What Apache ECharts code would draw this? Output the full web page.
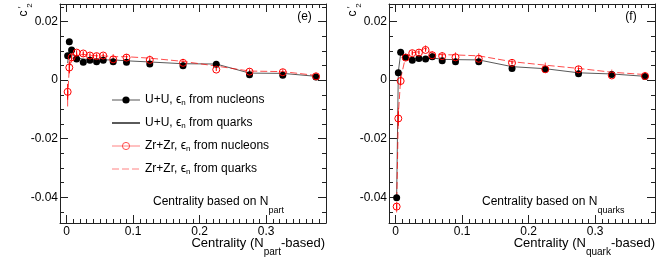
<!DOCTYPE html>
<html><head><meta charset="utf-8">
<script src="https://cdn.jsdelivr.net/npm/echarts@6/dist/echarts.min.js"></script>
<style>html,body{margin:0;padding:0;background:#fff}#c{width:664px;height:260px}</style>
</head><body><div id="c"></div>
<script>
// ---- data ----
const centrality = [0.0015, 0.004, 0.0075, 0.015, 0.025, 0.035, 0.045, 0.055, 0.07, 0.09, 0.125, 0.175, 0.225, 0.275, 0.325, 0.375];
// panel (e): centrality based on Npart
const uuNucL = [0.0083, 0.0131, 0.0103, 0.0072, 0.0061, 0.0068, 0.0063, 0.0068, 0.0063, 0.0061, 0.0055, 0.0049, 0.0054, 0.0018, 0.0017, 0.0011];
const uuQrkL = [0.0058, 0.0108, 0.0088, 0.0076, 0.0072, 0.0070, 0.0069, 0.0069, 0.0069, 0.0066, 0.0062, 0.0056, 0.0055, 0.0024, 0.0023, 0.0013];
const zrNucL = [-0.0040, 0.0043, 0.0078, 0.0094, 0.0091, 0.0084, 0.0082, 0.0084, 0.0071, 0.0077, 0.0069, 0.0059, 0.0036, 0.0029, 0.0027, 0.0013];
const zrNucErrL = [0.0027, 0.0020, 0.0010, 0.0008, 0.0007, 0.0006, 0.0006, 0.0006, 0.0006, 0.0006, 0.0005, 0.0005, 0.0005, 0.0005, 0.0005, 0.0005];
const zrQrkL = [-0.0060, 0.0045, 0.0072, 0.0085, 0.0088, 0.0085, 0.0083, 0.0083, 0.0080, 0.0080, 0.0075, 0.0064, 0.0048, 0.0031, 0.0029, 0.0016];
const zrQrkErrL = [0.0030, 0.0020, 0.0012, 0.0009, 0.0009, 0.0009, 0.0009, 0.0009, 0.0009, 0.0009, 0.0009, 0.0009, 0.0009, 0.0009, 0.0009, 0.0009];
// panel (f): centrality based on Nquarks
const uuNucR = [-0.0402, 0.0025, 0.0095, 0.0078, 0.0068, 0.0074, 0.0072, 0.0080, 0.0066, 0.0063, 0.0063, 0.0040, 0.0037, 0.0022, 0.0019, 0.0012];
const uuQrkR = [-0.0400, 0.0028, 0.0090, 0.0076, 0.0073, 0.0074, 0.0073, 0.0076, 0.0071, 0.0070, 0.0069, 0.0046, 0.0039, 0.0025, 0.0021, 0.0013];
const zrNucR = [-0.0432, -0.0131, -0.0003, 0.0077, 0.0092, 0.0094, 0.0103, 0.0085, 0.0082, 0.0078, 0.0073, 0.0059, 0.0037, 0.0037, 0.0016, 0.0014];
const zrNucErrR = [0.0010, 0.0025, 0.0015, 0.0008, 0.0007, 0.0006, 0.0006, 0.0006, 0.0006, 0.0006, 0.0005, 0.0005, 0.0005, 0.0005, 0.0005, 0.0005];
const zrQrkR = [-0.0440, -0.0120, 0.0005, 0.0080, 0.0093, 0.0097, 0.0110, 0.0090, 0.0087, 0.0086, 0.0083, 0.0063, 0.0051, 0.0040, 0.0027, 0.0019];
const zrQrkErrR = [0.0012, 0.0025, 0.0015, 0.0009, 0.0009, 0.0009, 0.0009, 0.0009, 0.0009, 0.0009, 0.0009, 0.0009, 0.0009, 0.0009, 0.0009, 0.0009];
// ticks
const xTickLabels = [0, 0.1, 0.2, 0.3];
const yTickLabels = [-0.04, -0.02, 0, 0.02];
const seriesNames = ['U+U, \u03f5n from nucleons', 'U+U, \u03f5n from quarks', 'Zr+Zr, \u03f5n from nucleons', 'Zr+Zr, \u03f5n from quarks'];

// ---- layout ----
const FONT = '"Liberation Sans", Arial, Helvetica, sans-serif';
const X_MIN = -0.01, X_MAX = 0.39, Y_MIN = -0.0488, Y_MAX = 0.026;
const xMinor = []; for (let i = 0; i <= 38; i++) xMinor.push(+(i * 0.01).toFixed(3));
const yMinor = []; for (let i = -9; i <= 5; i++) yMinor.push(+(i * 0.005).toFixed(4));
const grids = [
  {left: 60, top: 4, width: 266, height: 219, containLabel: false},
  {left: 389, top: 4, width: 266, height: 219, containLabel: false}
];
const lineCol = '#222';
function fmt(v) { return Math.abs(v) < 1e-9 ? '0' : (Math.abs(v) < 0.05 ? v.toFixed(2) : v.toFixed(1)); }
const xAxes = [], yAxes = [];
grids.forEach((g, gi) => {
  const xb = {type: 'value', gridIndex: gi, min: X_MIN, max: X_MAX, splitLine: {show: false}};
  xAxes.push(Object.assign({}, xb, {position: 'bottom', axisLine: {show: true, onZero: false, lineStyle: {color: lineCol}},
    axisTick: {show: true, inside: true, length: 8, customValues: xTickLabels, lineStyle: {color: lineCol}},
    axisLabel: {show: true, customValues: xTickLabels, formatter: fmt, margin: 3, fontSize: 12, fontFamily: FONT, color: '#000'}}));
  xAxes.push(Object.assign({}, xb, {position: 'bottom', axisLine: {show: false, onZero: false},
    axisTick: {show: true, inside: true, length: 4, customValues: xMinor, lineStyle: {color: lineCol}}, axisLabel: {show: false}}));
  xAxes.push(Object.assign({}, xb, {position: 'top', axisLine: {show: true, onZero: false, lineStyle: {color: lineCol}},
    axisTick: {show: true, inside: true, length: 8, customValues: xTickLabels, lineStyle: {color: lineCol}}, axisLabel: {show: false}}));
  xAxes.push(Object.assign({}, xb, {position: 'top', axisLine: {show: false, onZero: false},
    axisTick: {show: true, inside: true, length: 4, customValues: xMinor, lineStyle: {color: lineCol}}, axisLabel: {show: false}}));
  const yb = {type: 'value', gridIndex: gi, min: Y_MIN, max: Y_MAX, splitLine: {show: false}};
  yAxes.push(Object.assign({}, yb, {position: 'left', axisLine: {show: true, onZero: false, lineStyle: {color: lineCol}},
    axisTick: {show: true, inside: true, length: 8, customValues: yTickLabels, lineStyle: {color: lineCol}},
    axisLabel: {show: true, customValues: yTickLabels, formatter: fmt, margin: 2, fontSize: 12, fontFamily: FONT, color: '#000'}}));
  yAxes.push(Object.assign({}, yb, {position: 'left', axisLine: {show: false, onZero: false},
    axisTick: {show: true, inside: true, length: 4, customValues: yMinor, lineStyle: {color: lineCol}}, axisLabel: {show: false}}));
  yAxes.push(Object.assign({}, yb, {position: 'right', axisLine: {show: true, onZero: false, lineStyle: {color: lineCol}},
    axisTick: {show: true, inside: true, length: 8, customValues: yTickLabels, lineStyle: {color: lineCol}}, axisLabel: {show: false}}));
  yAxes.push(Object.assign({}, yb, {position: 'right', axisLine: {show: false, onZero: false},
    axisTick: {show: true, inside: true, length: 4, customValues: yMinor, lineStyle: {color: lineCol}}, axisLabel: {show: false}}));
});

function pairs(ys) { return centrality.map((x, i) => [x, ys[i]]); }
function triples(ys, es) { return centrality.map((x, i) => [x, ys[i], es[i]]); }
const RED = '#ff0000';
const RED_DASH = 'rgba(255,0,0,0.7)';
function errSeries(gi, ys, es, col) {
  return {
    type: 'custom', name: 'err' + gi + col, xAxisIndex: gi * 4, yAxisIndex: gi * 4, z: 3,
    encode: {x: 0, y: 1}, data: triples(ys, es), clip: true,
    renderItem: (params, api) => {
      const x = api.value(0), y = api.value(1), e = api.value(2);
      const p1 = api.coord([x, y - e]), p2 = api.coord([x, y + e]);
      return {type: 'line', shape: {x1: p1[0], y1: p1[1], x2: p2[0], y2: p2[1]}, style: {stroke: col, lineWidth: 1}};
    }
  };
}
const series = [];
[[uuNucL, uuQrkL, zrNucL, zrNucErrL, zrQrkL, zrQrkErrL], [uuNucR, uuQrkR, zrNucR, zrNucErrR, zrQrkR, zrQrkErrR]].forEach((d, gi) => {
  const ax = {xAxisIndex: gi * 4, yAxisIndex: gi * 4};
  series.push(Object.assign({type: 'line', name: seriesNames[1], data: pairs(d[1]), symbol: 'none', z: 2,
    lineStyle: {color: '#5a5a5a', width: 1}, itemStyle: {color: '#5a5a5a'}}, ax));
  series.push(Object.assign({type: 'line', name: seriesNames[3], data: pairs(d[4]), symbol: 'none', z: 2,
    lineStyle: {color: RED_DASH, width: 1, type: [7, 3]}, itemStyle: {color: RED_DASH}}, ax));
  series.push(errSeries(gi, d[4], d[5], RED_DASH));
  series.push(errSeries(gi, d[2], d[3], RED));
  series.push(Object.assign({type: 'line', name: seriesNames[0], data: pairs(d[0]), symbol: 'circle', symbolSize: 7, z: 4,
    lineStyle: {opacity: 0}, itemStyle: {color: '#000'}}, ax));
  series.push(Object.assign({type: 'line', name: seriesNames[2], data: pairs(d[2]), symbol: 'circle', symbolSize: 7, z: 5,
    lineStyle: {opacity: 0}, itemStyle: {color: 'rgba(255,255,255,0)', borderColor: RED, borderWidth: 1}}, ax));
});

function legendFmt(name) {
  const parts = name.split('\u03f5n');
  return '{t|' + parts[0] + '\u03f5}{s|n}{t|' + parts[1] + '}';
}
// subscript via rich text: main token line height = 2*drop + subFont, sub token aligned to bottom
const subRich = (fs, sfs, drop) => ({
  t: {fontSize: fs, lineHeight: 2 * drop + sfs, fontFamily: FONT, color: '#000'},
  s: {fontSize: sfs, verticalAlign: 'bottom', fontFamily: FONT, color: '#000'}
});
const txt = (o) => Object.assign({fontFamily: FONT, fill: '#000'}, o);
const hideSym = {opacity: 0, color: 'rgba(0,0,0,0)', borderColor: 'rgba(0,0,0,0)', borderWidth: 0};

const option = {
  backgroundColor: '#fff',
  animation: false,
  grid: grids,
  xAxis: xAxes,
  yAxis: yAxes,
  legend: {
    orient: 'vertical', left: 106, top: 89, itemWidth: 28, itemHeight: 9, itemGap: 10,
    data: [
      {name: seriesNames[0], lineStyle: {opacity: 1, color: '#555', width: 1}},
      {name: seriesNames[1], itemStyle: hideSym},
      {name: seriesNames[2], lineStyle: {opacity: 1, color: 'rgba(255,90,90,0.75)', width: 1},
        itemStyle: {color: 'rgba(255,255,255,0)', borderColor: 'rgba(255,60,60,0.9)', borderWidth: 1}},
      {name: seriesNames[3], itemStyle: hideSym, lineStyle: {color: 'rgba(255,90,90,0.75)', width: 1}}
    ],
    formatter: legendFmt,
    textStyle: {fontSize: 12, fontFamily: FONT, color: '#000', rich: subRich(12, 8, 3)},
    selectedMode: false
  },
  graphic: [
    ...[0, 329].map(dx => ({type: 'group', children: [
      {type: 'text', x: 23.5 + dx, y: 13.5, rotation: Math.PI / 2, style: txt({text: 'c', fontSize: 12, align: 'center', verticalAlign: 'middle'})},
      {type: 'text', x: 21.5 + dx, y: 7.5, rotation: Math.PI / 2, style: txt({text: '\u2032', fontSize: 9, align: 'center', verticalAlign: 'middle'})},
      {type: 'text', x: 29.5 + dx, y: 5.5, rotation: Math.PI / 2, style: txt({text: '2', fontSize: 8, align: 'center', verticalAlign: 'middle'})}
    ]})),
    {type: 'text', x: 304.5, y: 17, style: txt({text: '(e)', fontSize: 12, align: 'center', verticalAlign: 'middle'})},
    {type: 'text', x: 631, y: 17, style: txt({text: '(f)', fontSize: 12, align: 'center', verticalAlign: 'middle'})},
    {type: 'text', x: 153, y: 202, style: txt({text: '{t|Centrality based on N}{s|part}', rich: subRich(12, 9, 8.5), align: 'left', verticalAlign: 'middle'})},
    {type: 'text', x: 482, y: 202, style: txt({text: '{t|Centrality based on N}{s|quarks}', rich: subRich(12, 9, 8.5), align: 'left', verticalAlign: 'middle'})},
    {type: 'text', x: 325, y: 243.5, style: txt({text: '{t|Centrality (N}{s|part}{t|-based)}', rich: subRich(13, 10, 9), align: 'right', verticalAlign: 'middle'})},
    {type: 'text', x: 655, y: 243.5, style: txt({text: '{t|Centrality (N}{s|quark}{t|-based)}', rich: subRich(13, 10, 9), align: 'right', verticalAlign: 'middle'})}
  ],
  series: series
};
const chart = echarts.init(document.getElementById('c'), null, {renderer: 'canvas'});
chart.setOption(option);
</script></body></html>
